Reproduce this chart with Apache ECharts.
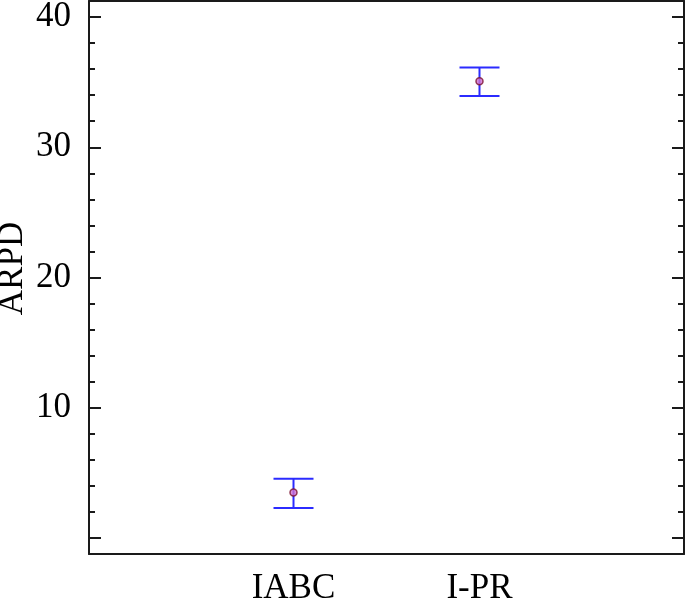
<!DOCTYPE html>
<html>
<head>
<meta charset="utf-8">
<script src="https://cdn.jsdelivr.net/npm/echarts@6/dist/echarts.min.js"></script>
<style>
  html, body { margin: 0; padding: 0; background: #fff; }
  #chart { width: 685px; height: 599px; }
</style>
</head>
<body>
<div id="chart"></div>
<script>
const CATEGORIES = ["IABC", "I-PR"];
const MEANS = [3.49, 35.06];
const LOWER = [2.31, 33.93];
const UPPER = [4.54, 36.13];
const Y_MAJOR = [0, 10, 20, 30, 40];
const Y_LABELS = [10, 20, 30, 40];
const Y_MINOR = [2, 4, 6, 8, 12, 14, 16, 18, 22, 24, 26, 28, 32, 34, 36, 38];

const FONT = "'Liberation Serif', 'Times New Roman', serif";
const AXIS_COLOR = "#1a1a1a";
const BAR_COLOR = "#2b2bff";

const xPos = CATEGORIES.map((_, i) => i + 1);

function yAxisDef(position, showLabels, ticks, tickLen, showLine) {
  return {
    type: "value",
    position,
    min: -1.23,
    max: 41.23,
    splitLine: { show: false },
    axisLine: { show: showLine, onZero: false, lineStyle: { color: AXIS_COLOR, width: 2 } },
    axisTick: {
      show: true,
      inside: true,
      length: tickLen,
      customValues: ticks,
      lineStyle: { color: AXIS_COLOR, width: 2 },
    },
    axisLabel: {
      show: showLabels,
      customValues: Y_LABELS,
      margin: 18,
      color: "#000",
      fontFamily: FONT,
      fontSize: 35,
    },
  };
}

const chart = echarts.init(document.getElementById("chart"), null, { renderer: "canvas" });

const errorData = xPos.map((x, i) => [x, LOWER[i], UPPER[i]]);
const meanData = xPos.map((x, i) => [x, MEANS[i]]);

chart.setOption({
  animation: false,
  backgroundColor: "#fff",
  grid: { left: 89, right: 1, top: 1, bottom: 45, containLabel: false, outerBoundsMode: "none" },
  xAxis: [
    {
      type: "value",
      position: "bottom",
      min: -0.0995,
      max: 3.0995,
      splitLine: { show: false },
      axisLine: { show: true, onZero: false, lineStyle: { color: AXIS_COLOR, width: 2 } },
      axisTick: { show: false },
      axisLabel: {
        customValues: xPos,
        formatter: (v) => CATEGORIES[Math.round(v) - 1] || "",
        margin: 17,
        color: "#000",
        fontFamily: FONT,
        fontSize: 35,
      },
    },
    {
      type: "value",
      position: "top",
      min: -0.0995,
      max: 3.0995,
      splitLine: { show: false },
      axisLine: { show: true, onZero: false, lineStyle: { color: AXIS_COLOR, width: 2 } },
      axisTick: { show: false },
      axisLabel: { show: false },
    },
  ],
  yAxis: [
    Object.assign(yAxisDef("left", true, Y_MAJOR, 12, true), {
      name: "ARPD",
      nameLocation: "middle",
      nameGap: 59,
      nameMoveOverlap: false,
      nameTextStyle: { color: "#000", fontFamily: FONT, fontSize: 35, padding: [0, 0, 0, 18] },
    }),
    yAxisDef("left", false, Y_MINOR, 6, false),
    yAxisDef("right", false, Y_MAJOR, 12, true),
    yAxisDef("right", false, Y_MINOR, 6, false),
  ],
  series: [
    {
      type: "custom",
      xAxisIndex: 0,
      yAxisIndex: 0,
      data: errorData,
      renderItem: (params, api) => {
        const x = api.value(0);
        const lo = api.coord([x, api.value(1)]);
        const hi = api.coord([x, api.value(2)]);
        const half = 20;
        const style = { stroke: BAR_COLOR, lineWidth: 2 };
        return {
          type: "group",
          children: [
            { type: "line", shape: { x1: lo[0], y1: lo[1], x2: hi[0], y2: hi[1] }, style },
            { type: "line", shape: { x1: lo[0] - half, y1: lo[1], x2: lo[0] + half, y2: lo[1] }, style },
            { type: "line", shape: { x1: hi[0] - half, y1: hi[1], x2: hi[0] + half, y2: hi[1] }, style },
          ],
        };
      },
    },
    {
      type: "scatter",
      xAxisIndex: 0,
      yAxisIndex: 0,
      data: meanData,
      symbol: "circle",
      symbolSize: 7,
      itemStyle: { color: "#d070d0", borderColor: "#7a1030", borderWidth: 1.5 },
    },
  ],
});
</script>
</body>
</html>
